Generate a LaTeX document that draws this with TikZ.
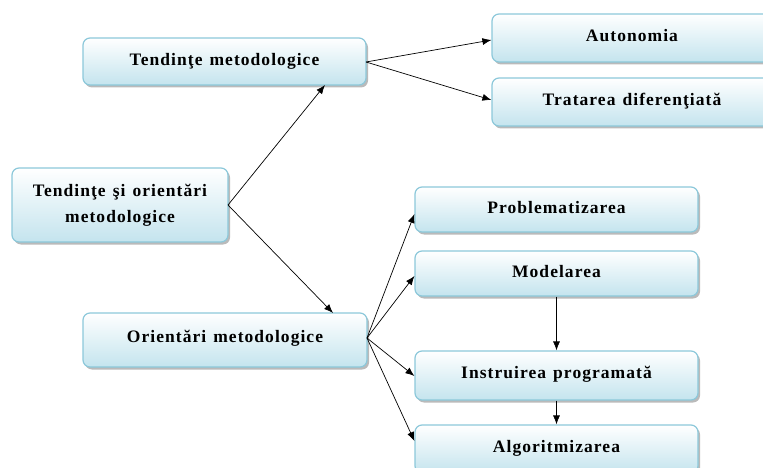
\documentclass[tikz,border=0pt]{standalone}
\usepackage{fontspec}
\setmainfont{Liberation Serif}
\newfontfamily\boxfont[LetterSpace=6,WordSpace=1.3]{Liberation Serif}
\usetikzlibrary{arrows.meta,shadows}
\definecolor{boxedge}{RGB}{140,200,218}
\definecolor{boxbot}{RGB}{196,228,238}
\begin{document}
\begin{tikzpicture}[x=1pt,y=-1pt,
  box/.style={draw=boxedge,line width=1.2pt,rounded corners=7pt,
    top color=white,bottom color=boxbot,
    drop shadow={shadow xshift=2pt,shadow yshift=-2.5pt,fill=black!45,opacity=0.6},
    font=\boxfont\fontsize{17.5}{26}\selectfont\bfseries,align=center,inner sep=0pt},
  conn/.style={line width=0.7pt,-{Latex[length=9pt,width=7pt]}}]
\useasboundingbox (0,0) rectangle (763,468);
\node[box,minimum width=216pt,minimum height=74pt] (root) at (120,205) {\raisebox{2pt}{Tendinţe şi orientări}\\\raisebox{2pt}{metodologice}};
\node[box,minimum width=283pt,minimum height=47pt] (tm) at (224.5,61.5) {\raisebox{5pt}{Tendinţe metodologice}};
\node[box,minimum width=284pt,minimum height=54pt] (om) at (225,340) {\raisebox{8pt}{Orientări metodologice}};
\node[box,minimum width=280pt,minimum height=48pt] (aut) at (632,38) {\raisebox{6pt}{Autonomia}};
\node[box,minimum width=280pt,minimum height=48pt] (trat) at (632,102) {\raisebox{6pt}{Tratarea diferenţiată}};
\node[box,minimum width=283pt,minimum height=45pt] (prob) at (556.5,209.5) {\raisebox{5pt}{Problematizarea}};
\node[box,minimum width=283pt,minimum height=45pt] (mod) at (556.5,273.5) {\raisebox{5pt}{Modelarea}};
\node[box,minimum width=283pt,minimum height=49pt] (instr) at (556.5,375.5) {\raisebox{6pt}{Instruirea programată}};
\node[box,minimum width=283pt,minimum height=48pt] (alg) at (556.5,449) {\raisebox{6pt}{Algoritmizarea}};
\coordinate (r0) at (228,205);
\coordinate (t0) at (366,62);
\coordinate (o0) at (367,338);
\draw[conn] (r0) -- (325,85);
\draw[conn] (r0) -- (333,313);
\draw[conn] (t0) -- (aut.west |- 0,40);
\draw[conn] (t0) -- (trat.west |- 0,100);
\draw[conn] (o0) -- (prob.west |- 0,214);
\draw[conn] (o0) -- (mod.west |- 0,276);
\draw[conn] (o0) -- (instr.west |- 0,376);
\draw[conn] (o0) -- (alg.west |- 0,441);
\draw[conn] (mod.south) -- (instr.north);
\draw[conn] (instr.south) -- (alg.north);
\end{tikzpicture}
\end{document}
